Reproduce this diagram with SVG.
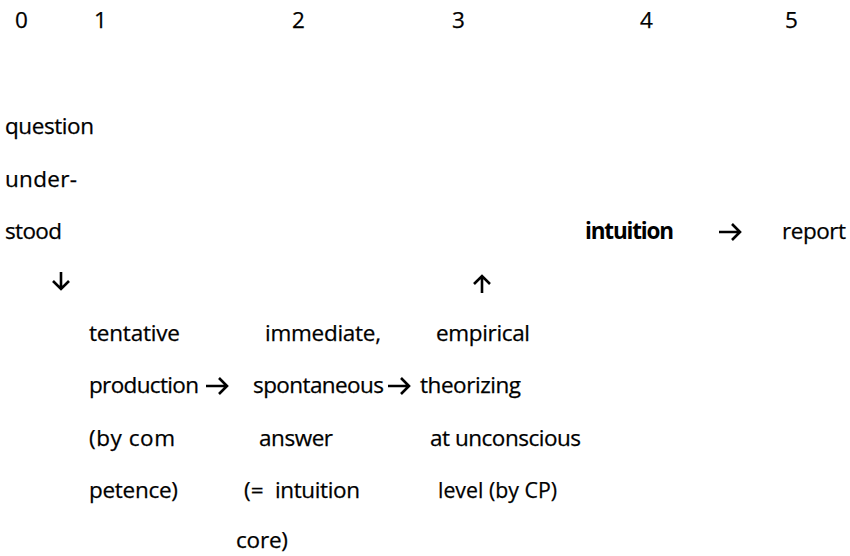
<svg xmlns="http://www.w3.org/2000/svg" width="850" height="556" viewBox="0 0 850 556">
<style>
text{font-family:"Open Sans","Liberation Sans",Arial,sans-serif;font-size:22.5px;fill:#000;stroke:#000;stroke-width:0.25}
.b{font-weight:bold;stroke-width:0}
.arr{fill:none;stroke:#000;stroke-width:2.6;stroke-linecap:butt;stroke-linejoin:miter}
</style>
<rect width="850" height="556" fill="#fff"/>
<g id="scale">
<text x="15" y="28">0</text>
<text x="94" y="28">1</text>
<text x="292" y="28">2</text>
<text x="452" y="28">3</text>
<text x="640" y="28">4</text>
<text x="785" y="28">5</text>
</g>
<g id="node-question">
<text x="5" y="134" textLength="89">question</text>
<text x="5" y="187" textLength="72">under-</text>
<text x="5" y="239" textLength="57">stood</text>
</g>
<g id="node-intuition">
<text class="b" x="585" y="239" textLength="89">intuition</text>
</g>
<g id="node-report">
<text x="782" y="239" textLength="64">report</text>
</g>
<g id="node-tentative">
<text x="89" y="341" textLength="91">tentative</text>
<text x="89" y="393" textLength="110">production</text>
<text x="89" y="446" textLength="86">(by com</text>
<text x="89" y="498" textLength="89">petence)</text>
</g>
<g id="node-immediate">
<text x="265" y="341" textLength="116">immediate,</text>
<text x="253" y="393" textLength="131">spontaneous</text>
<text x="259" y="446" textLength="74">answer</text>
<text x="244" y="498">(=</text>
<text x="275" y="498" textLength="85">intuition</text>
<text x="236" y="548" textLength="52">core)</text>
</g>
<g id="node-empirical">
<text x="436" y="341" textLength="94">empirical</text>
<text x="420" y="393" textLength="101">theorizing</text>
<text x="430" y="446" textLength="151">at unconscious</text>
<text x="438" y="498" textLength="119" lengthAdjust="spacingAndGlyphs">level (by CP)</text>
</g>
<g id="connectors">
<path class="arr" d="M61 272V289M53 281L61 289L69 281"/>
<path class="arr" d="M482 293V276M474 284L482 276L490 284"/>
<path class="arr" d="M719 232H740M732 224L740 232L732 240"/>
<path class="arr" d="M206 386H227M219 378L227 386L219 394"/>
<path class="arr" d="M388 386H409M401 378L409 386L401 394"/>
</g>
</svg>
